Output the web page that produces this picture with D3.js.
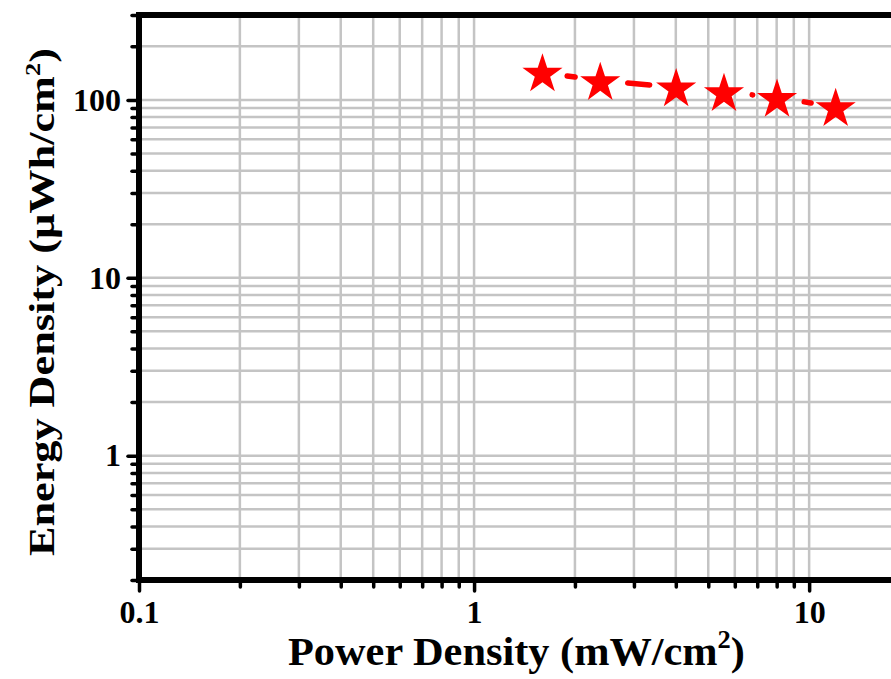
<!DOCTYPE html>
<html>
<head>
<meta charset="utf-8">
<script src="https://cdn.jsdelivr.net/npm/d3@7"></script>
<style>
	body { margin: 0; background: #fff; }
	svg { display: block; font-family: "Liberation Serif", "Times New Roman", serif; font-weight: bold; }
</style>
</head>
<body>
<div id="chart"></div>
<script>
// data
var powerDensity  = [1.60, 2.38, 4.01, 5.57, 8.02, 12.0];
var energyDensity = [143, 128, 118, 111, 103, 91.4];

var xMajor = [0.1, 1, 10];
var yMajor = [1, 10, 100];
var xMinor = [0.2, 0.3, 0.4, 0.5, 0.6, 0.7, 0.8, 0.9, 2, 3, 4, 5, 6, 7, 8, 9, 20];
var yMinor = [0.2, 0.3, 0.4, 0.5, 0.6, 0.7, 0.8, 0.9, 2, 3, 4, 5, 6, 7, 8, 9,
              20, 30, 40, 50, 60, 70, 80, 90, 200, 300];

var W = 891, H = 679;
var gridColor = "#c4c4c4";
var serif = "'Liberation Serif', 'Times New Roman', serif";

var svg = d3.select("#chart").append("svg")
	.attr("width", W)
	.attr("height", H);

// scales (plot goes off the right edge, like the source)
var x = d3.scaleLog().domain([0.1, 20]).range([139, 910]);
var y = d3.scaleLog().domain([0.2, 300]).range([580, 15]);

// grid
var grid = svg.append("g").attr("class", "grid");
grid.selectAll("line.gx")
	.data(xMajor.concat(xMinor).filter(function (d) { return d > 0.1; }))
	.enter().append("line")
	.attr("x1", function (d) { return x(d); })
	.attr("x2", function (d) { return x(d); })
	.attr("y1", y(300))
	.attr("y2", y(0.2))
	.attr("stroke", gridColor)
	.attr("stroke-width", 2.5);
grid.selectAll("line.gy")
	.data(yMajor.concat(yMinor).filter(function (d) { return d > 0.2 && d < 300; }))
	.enter().append("line")
	.attr("y1", function (d) { return y(d); })
	.attr("y2", function (d) { return y(d); })
	.attr("x1", x(0.1))
	.attr("x2", x(20))
	.attr("stroke", gridColor)
	.attr("stroke-width", 2.5);

// axes: minor ticks first, then major ticks with labels
function styleAxis(g) {
	g.select(".domain").remove();
	g.attr("font-family", serif).attr("font-size", 32);
	g.selectAll(".tick line")
		.attr("stroke", "#000")
		.attr("stroke-width", 3.5)
		.attr("stroke-linecap", "round");
	g.selectAll(".tick text")
		.attr("fill", "#000")
		.style("font-family", serif)
		.style("font-size", "32px")
		.style("font-weight", "bold");
}

svg.append("g")
	.attr("transform", "translate(0," + y(0.2) + ")")
	.call(d3.axisBottom(x).tickValues(xMinor).tickSize(7).tickFormat(""))
	.call(styleAxis);
svg.append("g")
	.attr("transform", "translate(0," + y(0.2) + ")")
	.call(d3.axisBottom(x).tickValues(xMajor).tickSize(11).tickPadding(9)
		.tickFormat(function (d) { return d3.format("~g")(d); }))
	.call(styleAxis);

svg.append("g")
	.attr("transform", "translate(" + x(0.1) + ",0)")
	.call(d3.axisLeft(y).tickValues(yMinor).tickSize(7).tickFormat(""))
	.call(styleAxis);
svg.append("g")
	.attr("transform", "translate(" + x(0.1) + ",0)")
	.call(d3.axisLeft(y).tickValues(yMajor).tickSize(11).tickPadding(7)
		.tickFormat(function (d) { return d3.format("~g")(d); }))
	.call(styleAxis);

// frame
svg.append("rect")
	.attr("x", x(0.1))
	.attr("y", y(300))
	.attr("width", x(20) - x(0.1))
	.attr("height", y(0.2) - y(300))
	.attr("fill", "none")
	.attr("stroke", "#000")
	.attr("stroke-width", 6);

// series
var line = d3.line()
	.x(function (d, i) { return x(powerDensity[i]); })
	.y(function (d) { return y(d); });

svg.append("path")
	.attr("d", line(energyDensity))
	.attr("fill", "none")
	.attr("stroke", "#ff0000")
	.attr("stroke-width", 5.5)
	.attr("stroke-linecap", "round")
	.attr("stroke-dasharray", "0,25,8,53,22,103,0.5,52,7,40");

var star = d3.symbol().type(d3.symbolStar).size(500);
svg.selectAll("path.star")
	.data(energyDensity)
	.enter().append("path")
	.attr("class", "star")
	.attr("d", star)
	.attr("transform", function (d, i) { return "translate(" + x(powerDensity[i]) + "," + (y(d) + 2) + ")"; })
	.attr("fill", "#ff0000");

// axis titles, stretched to the width they take in the source
function title(g, label, size, supSize, supDy, targetLen) {
	var t = g.append("text")
		.attr("text-anchor", "start")
		.style("font-size", size + "px")
		.text(label);
	t.append("tspan").attr("dy", supDy).style("font-size", supSize + "px").text("2");
	t.append("tspan").attr("dy", -supDy).text(")");
	var len = t.node().getComputedTextLength();
	t.attr("transform", "scale(" + (targetLen / len) + ",1)");
}

var xg = svg.append("g").attr("transform", "translate(288,665)");
title(xg, "Power Density (mW/cm", 40, 25, -17, 457);

var yg = svg.append("g").attr("transform", "translate(54,556) rotate(-90)");
title(yg, "Energy Density (\u00b5Wh/cm", 35, 21, -14, 508);
</script>
</body>
</html>
